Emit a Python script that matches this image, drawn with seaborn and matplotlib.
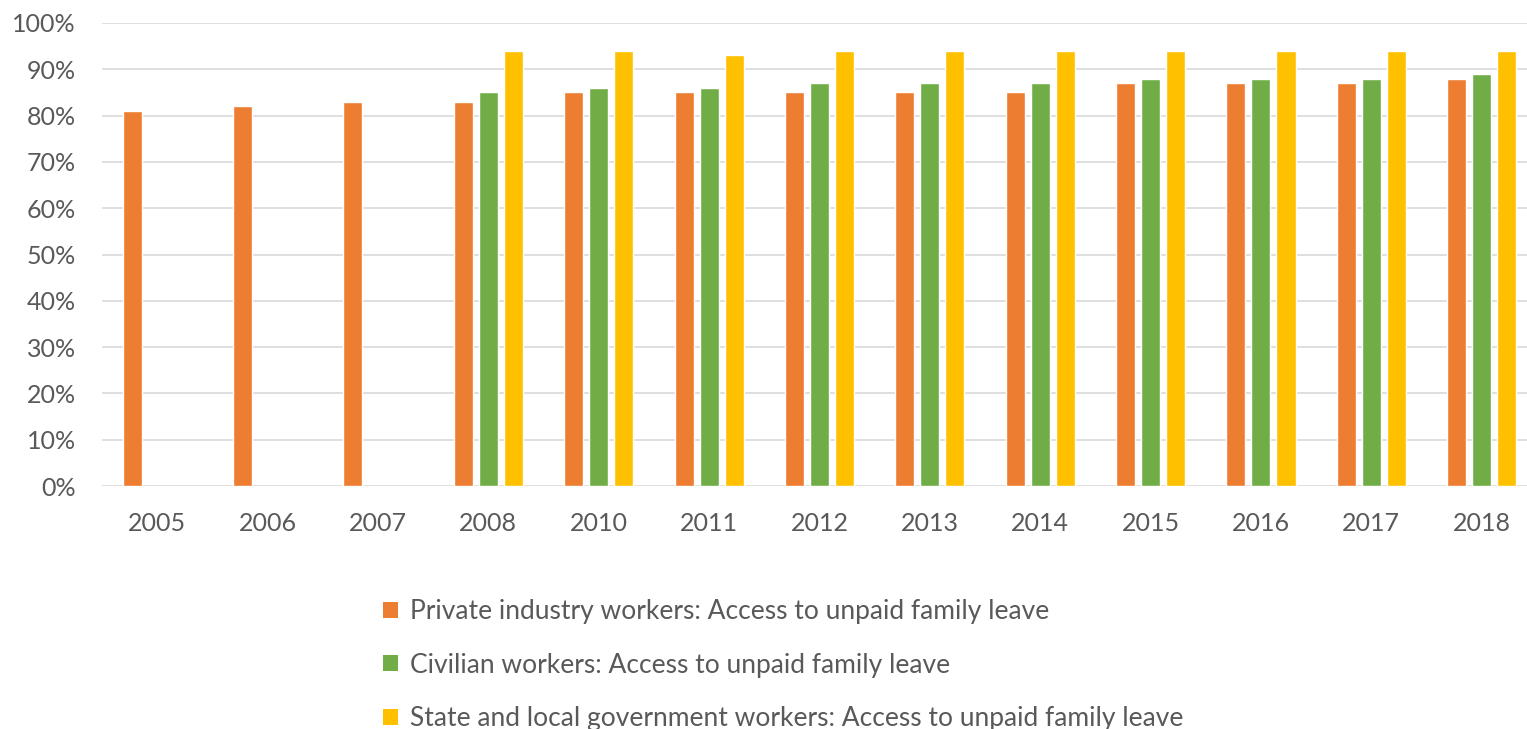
import numpy as np
import pandas as pd
import seaborn as sns
import matplotlib.pyplot as plt
from matplotlib.patches import Patch
from matplotlib.ticker import PercentFormatter

years = ["2005", "2006", "2007", "2008", "2010", "2011", "2012", "2013",
         "2014", "2015", "2016", "2017", "2018"]
private = [81, 82, 83, 83, 85, 85, 85, 85, 85, 87, 87, 87, 88]
civilian = [np.nan, np.nan, np.nan, 85, 86, 86, 87, 87, 87, 88, 88, 88, 89]
state_local = [np.nan, np.nan, np.nan, 94, 94, 93, 94, 94, 94, 94, 94, 94, 94]
series_names = [
    "Private industry workers: Access to unpaid family leave",
    "Civilian workers: Access to unpaid family leave",
    "State and local government workers: Access to unpaid family leave",
]
colors = ["#ED7D31", "#70AD47", "#FFC000"]

rows = []
for name, vals in zip(series_names, [private, civilian, state_local]):
    for y, v in zip(years, vals):
        rows.append({"year": y, "series": name, "value": v})
df = pd.DataFrame(rows)

sns.set_theme(style="white")
plt.rcParams["font.family"] = ["Lato", "DejaVu Sans"]

fig = plt.figure(figsize=(15.27, 7.29), dpi=100)
ax = fig.add_axes([102 / 1527, 1 - 486 / 729, 1 - 102 / 1527, (486 - 23) / 729])

sns.barplot(data=df, x="year", y="value", hue="series", order=years,
            hue_order=series_names, palette=colors, width=0.68, gap=0.24,
            saturation=1, ax=ax, legend=False)

ax.set_ylim(0, 100)
ax.set_xlim(-0.5, 12.41)
ax.set_yticks(np.arange(0, 101, 10))
ax.yaxis.set_major_formatter(PercentFormatter(decimals=0))
ax.grid(axis="y", color="#D9D9D9", linewidth=1.2)
ax.set_axisbelow(True)
for s in ax.spines.values():
    s.set_visible(False)
ax.tick_params(axis="both", length=0, colors="#595959", labelsize=18)
ax.tick_params(axis="y", pad=19)
ax.tick_params(axis="x", pad=19)
ax.set_xlabel("")
ax.set_ylabel("")

handles = [Patch(facecolor=c, edgecolor="none") for c in colors]
fig.legend(handles, series_names, loc="upper left",
           bbox_to_anchor=(378 / 1527, 1 - 594 / 729), frameon=False,
           handlelength=0.55, handleheight=0.55, handletextpad=0.45,
           labelspacing=1.08, fontsize=19, labelcolor="#595959",
           borderaxespad=0, borderpad=0.2)

fig.savefig("out.png", dpi=100, facecolor="white")
